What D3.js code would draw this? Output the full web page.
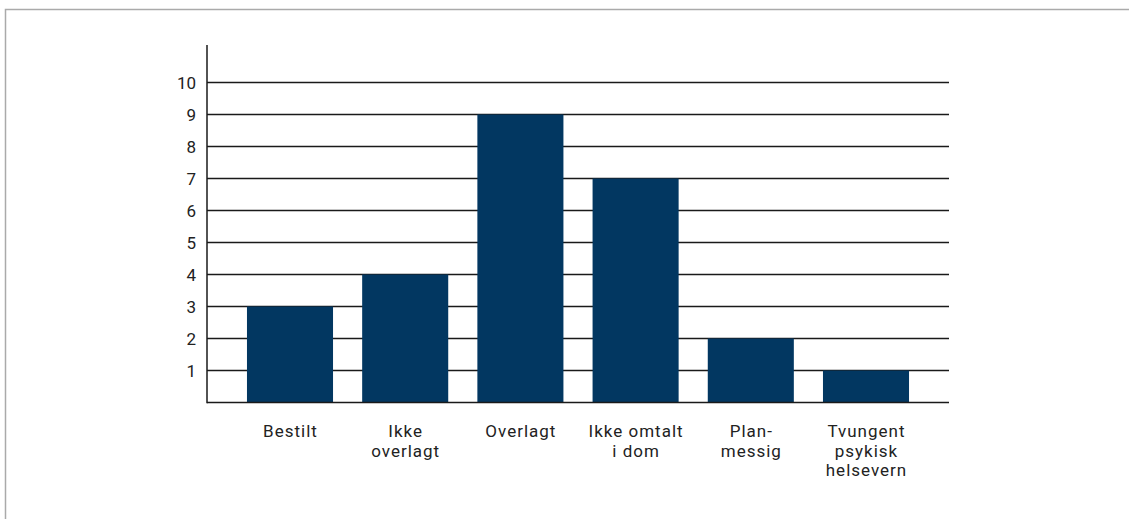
<!DOCTYPE html>
<html><head><meta charset="utf-8">
<script src="https://cdn.jsdelivr.net/npm/d3@7"></script>
<style>html,body{margin:0;padding:0;background:#fff;}svg{display:block;}</style>
</head><body>
<svg id="chart" width="1129" height="519"></svg>
<script>
const categories = ["Bestilt", "Ikke overlagt", "Overlagt", "Ikke omtalt i dom", "Plan-messig", "Tvungent psykisk helsevern"];
const labelLines = [["Bestilt"], ["Ikke", "overlagt"], ["Overlagt"], ["Ikke omtalt", "i dom"], ["Plan-", "messig"], ["Tvungent", "psykisk", "helsevern"]];
const values = [3, 4, 9, 7, 2, 1];
const yTicks = [1, 2, 3, 4, 5, 6, 7, 8, 9, 10];

const svg = d3.select("#chart");
const font = "Roboto, 'DejaVu Sans', sans-serif";

// frame
svg.append("path").attr("d", "M5.5,519 V9.5 H1129").attr("fill", "none").attr("stroke", "#aaa").attr("stroke-width", 1.5);

const x0 = 207, x1 = 949;
const y = d3.scaleLinear().domain([0, 10]).range([402.5, 82.5]);
const x = d3.scaleBand().domain(categories).range([x0, x1]).paddingInner(0.253).paddingOuter(0.347);

// gridlines
svg.append("g").selectAll("line").data(yTicks).join("line")
  .attr("x1", x0).attr("x2", x1)
  .attr("y1", d => y(d)).attr("y2", d => y(d))
  .attr("stroke", "#1a1a1a").attr("stroke-width", 1.3);

// bars
svg.append("g").selectAll("rect").data(values).join("rect")
  .attr("x", (d, i) => x(categories[i]))
  .attr("width", x.bandwidth())
  .attr("y", d => y(d))
  .attr("height", d => y(0) - y(d))
  .attr("fill", "#023761");

// axes lines
svg.append("line").attr("x1", x0).attr("x2", x0).attr("y1", 45).attr("y2", y(0) + 0.7)
  .attr("stroke", "#1a1a1a").attr("stroke-width", 1.5);
svg.append("line").attr("x1", x0).attr("x2", x1).attr("y1", y(0)).attr("y2", y(0))
  .attr("stroke", "#1a1a1a").attr("stroke-width", 1.5);

// y tick labels
svg.append("g").selectAll("text").data(yTicks).join("text")
  .attr("x", 196).attr("y", d => y(d)).attr("dy", "0.36em")
  .attr("text-anchor", "end")
  .attr("font-family", font).attr("font-size", 17).attr("fill", "#222")
  .text(d => d);

// x labels
const xl = svg.append("g").selectAll("text").data(categories).join("text")
  .attr("x", d => x(d) + x.bandwidth() / 2 + 0.5)
  .attr("y", 437)
  .attr("text-anchor", "middle")
  .attr("font-family", font).attr("font-size", 17).attr("fill", "#222")
  .attr("letter-spacing", "1px");
xl.each(function(d, i) {
  const t = d3.select(this);
  labelLines[i].forEach((ln, j) => {
    t.append("tspan").attr("x", x(d) + x.bandwidth() / 2 + 0.5).attr("dy", j === 0 ? 0 : 19.5).text(ln);
  });
});
</script>
</body></html>
